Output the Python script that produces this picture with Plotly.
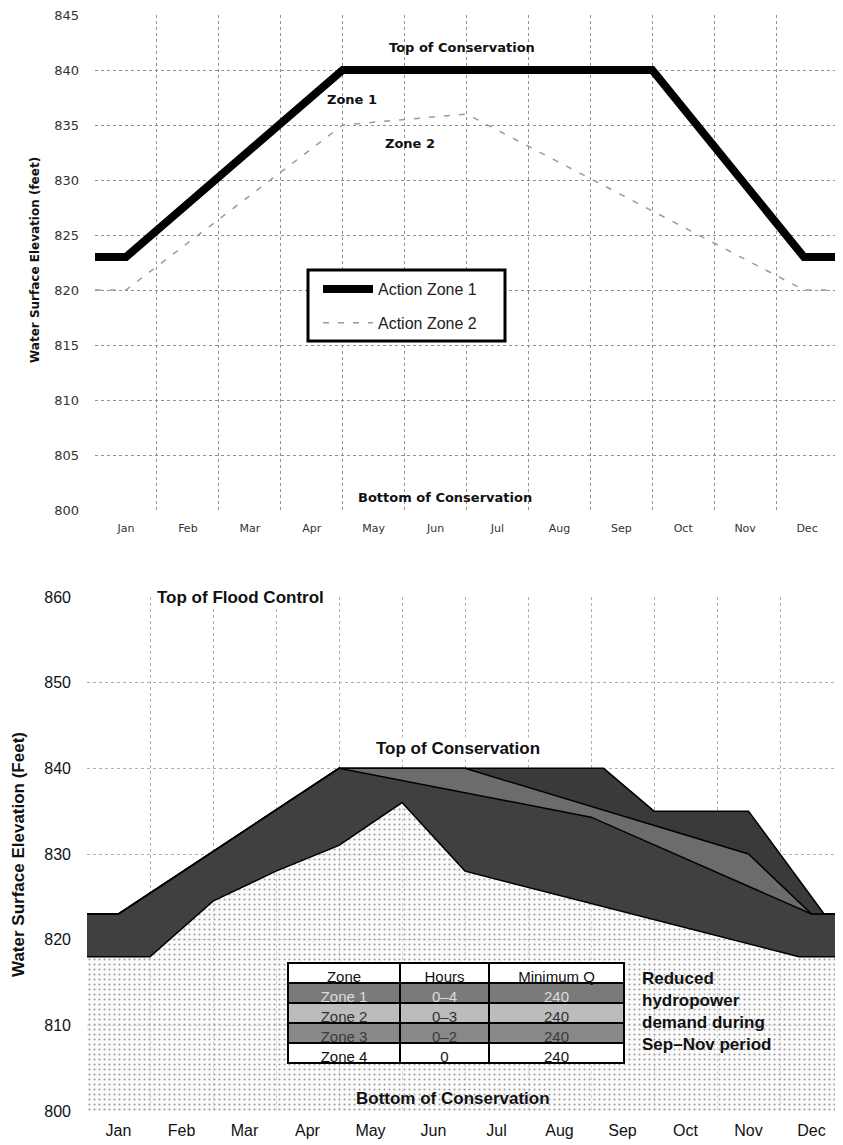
import plotly.graph_objects as go

WIN_W, WIN_H = 843, 1145
OFF = 8  # default page body margin
FIG_W, FIG_H = WIN_W - OFF, WIN_H - OFF

# ---------------- data ----------------
MONTHS = ["Jan", "Feb", "Mar", "Apr", "May", "Jun", "Jul", "Aug", "Sep", "Oct", "Nov", "Dec"]
MONTH_CENTERS = [0.5, 1.5, 2.5, 3.5, 4.5, 5.5, 6.5, 7.5, 8.5, 9.5, 10.5, 11.5]
MONTH_BOUNDS = [0, 1, 2, 3, 4, 5, 6, 7, 8, 9, 10, 11, 12]

# top chart: action zones (x in months from Jan 1)
AZ1_T = [0, 0.5, 4.0, 9.0, 11.45, 12.0]
AZ1_V = [823, 823, 840, 840, 823, 823]
AZ2_T = [0, 0.5, 4.0, 6.0, 11.45, 12.0]
AZ2_V = [820, 820, 835, 836, 820, 820]

# bottom chart: zone boundaries
TOP_T = [0, 0.5, 4.0, 8.2, 9.0, 10.5, 11.7, 12.0]
TOP_V = [823, 823, 840, 840, 835, 835, 823, 823]
Z1_T = [0, 0.5, 4.0, 6.0, 10.5, 11.5, 12.0]
Z1_V = [823, 823, 840, 840, 830, 823, 823]
Z2_T = [0, 0.5, 4.0, 8.0, 11.5, 12.0]
Z2_V = [823, 823, 840, 834.3, 823, 823]
Z3_T = [0, 1.0, 2.0, 3.0, 4.0, 5.0, 6.0, 11.3, 12.0]
Z3_V = [818, 818, 824.5, 828, 831, 836, 828, 818, 818]

TABLE_HEADER = ["Zone", "Hours", "Minimum Q"]
TABLE_ZONE = ["Zone 1", "Zone 2", "Zone 3", "Zone 4"]
TABLE_HOURS = ["0\u20134", "0\u20133", "0\u20132", "0"]
TABLE_MINQ = ["240", "240", "240", "240"]

ROW_FILLS = ["#7a7a7a", "#bcbcbc", "#888888", "#ffffff"]
ROW_FONTS = ["#dcdcdc", "#333333", "#3a3a3a", "#111111"]


def px_x(p):
    return (p - OFF) / FIG_W


def px_y(p):
    return 1 - (p - OFF) / FIG_H


fig = go.Figure()

# ---------------- top chart ----------------
fig.add_trace(go.Scatter(
    x=AZ1_T, y=AZ1_V, mode="lines", name="Action Zone 1",
    line=dict(color="black", width=8), xaxis="x", yaxis="y",
    legendgroup="a", showlegend=True, hoverinfo="skip"))
fig.add_trace(go.Scatter(
    x=AZ2_T, y=AZ2_V, mode="lines", name="Action Zone 2",
    line=dict(color="#9a9a9a", width=1.5, dash="6px,9px"), xaxis="x", yaxis="y",
    legendgroup="b", showlegend=True, hoverinfo="skip"))

# ---------------- bottom chart ----------------
fig.add_trace(go.Scatter(
    x=Z3_T, y=Z3_V, mode="lines", line=dict(color="black", width=1.5),
    fill="tozeroy", fillcolor="rgba(244,244,244,0.6)",
    fillpattern=dict(shape=".", fgcolor="#9c9c9c", bgcolor="rgba(247,247,247,0.55)",
                     size=5, solidity=0.14),
    xaxis="x2", yaxis="y2", showlegend=False, hoverinfo="skip"))
fig.add_trace(go.Scatter(
    x=Z2_T, y=Z2_V, mode="lines", line=dict(color="black", width=1.5),
    fill="tonexty", fillcolor="#404040",
    xaxis="x2", yaxis="y2", showlegend=False, hoverinfo="skip"))
fig.add_trace(go.Scatter(
    x=Z1_T, y=Z1_V, mode="lines", line=dict(color="black", width=1.5),
    fill="tonexty", fillcolor="#6c6c6c",
    xaxis="x2", yaxis="y2", showlegend=False, hoverinfo="skip"))
fig.add_trace(go.Scatter(
    x=TOP_T, y=TOP_V, mode="lines", line=dict(color="black", width=1.5),
    fill="tonexty", fillcolor="#3a3a3a",
    xaxis="x2", yaxis="y2", showlegend=False, hoverinfo="skip"))

# table
fig.add_trace(go.Table(
    domain=dict(x=[px_x(288), px_x(624)], y=[px_y(1066), px_y(963)]),
    columnwidth=[112, 89, 135],
    header=dict(values=TABLE_HEADER, fill_color="white",
                line=dict(color="black", width=1.5), height=20, align="center",
                font=dict(family="Liberation Sans Narrow, Liberation Sans, Arial", size=15, color="#111")),
    cells=dict(values=[TABLE_ZONE, TABLE_HOURS, TABLE_MINQ],
               fill_color=[ROW_FILLS, ROW_FILLS, ROW_FILLS],
               line=dict(color="black", width=1.5), height=20, align="center",
               font=dict(family="Liberation Sans Narrow, Liberation Sans, Arial", size=15,
                         color=[ROW_FONTS, ROW_FONTS, ROW_FONTS])),
))

grid_top = dict(gridcolor="#8f8f8f", griddash="dot", gridwidth=1)
grid_bot = dict(gridcolor="#b0b0b0", griddash="dot", gridwidth=1)

fig.update_layout(
    template="none",
    width=FIG_W, height=FIG_H,
    margin=dict(l=0, r=0, t=0, b=0, autoexpand=False),
    paper_bgcolor="white", plot_bgcolor="white",
    showlegend=True,
    legend=dict(x=px_x(318), y=px_y(272), xanchor="left", yanchor="top",
                bgcolor="rgba(0,0,0,0)", borderwidth=0,
                font=dict(family="Liberation Sans, Arial", size=16, color="#222"),
                itemwidth=50, traceorder="grouped", tracegroupgap=10),
    xaxis=dict(domain=[px_x(95), px_x(838)], range=[0, 12], anchor="y", automargin=False,
               tickmode="array", tickvals=MONTH_CENTERS, ticktext=MONTHS,
               showgrid=False, zeroline=False, showline=False, ticks="",
               ticklabelstandoff=10, ticklabeloverflow="allow",
               tickfont=dict(family="DejaVu Sans", size=11, color="#333"),
               minor=dict(tickmode="array", tickvals=MONTH_BOUNDS, showgrid=True, **grid_top)),
    yaxis=dict(domain=[px_y(510), px_y(15)], range=[800, 845], anchor="x", automargin=False,
               tickmode="array", tickvals=[800, 805, 810, 815, 820, 825, 830, 835, 840, 845],
               showgrid=True, zeroline=False, showline=False, ticks="",
               ticklabelstandoff=15, ticklabeloverflow="allow",
               tickfont=dict(family="DejaVu Sans", size=13, color="#333"), **grid_top),
    xaxis2=dict(domain=[px_x(87), 1.0], range=[0, 12], anchor="y2", automargin=False,
                tickmode="array", tickvals=MONTH_CENTERS, ticktext=MONTHS,
                showgrid=False, zeroline=False, showline=False, ticks="",
                ticklabelstandoff=8, ticklabeloverflow="allow",
                tickfont=dict(family="Liberation Sans, Arial", size=16, color="#111"),
                minor=dict(tickmode="array", tickvals=MONTH_BOUNDS, showgrid=True, **grid_bot)),
    yaxis2=dict(domain=[px_y(1111), px_y(597)], range=[800, 860], anchor="x2", automargin=False,
                tickmode="array", tickvals=[800, 810, 820, 830, 840, 850, 860],
                showgrid=True, zeroline=False, showline=False, ticks="",
                ticklabelstandoff=15, ticklabeloverflow="allow",
                tickfont=dict(family="Liberation Sans, Arial", size=16, color="#111"), **grid_bot),
    shapes=[
        # legend frame
        dict(type="rect", xref="paper", yref="paper",
             x0=px_x(308), x1=px_x(505), y0=px_y(341), y1=px_y(270),
             line=dict(color="black", width=3), fillcolor="white", layer="above"),
    ],
)

bold_top = dict(family="DejaVu Sans", size=13, color="#111")
bold_bot = dict(family="Liberation Sans, Arial", size=17, color="#111")

annotations = [
    dict(text="<b>Top of Conservation</b>", x=5.92, y=842.0, xref="x", yref="y", font=bold_top),
    dict(text="<b>Zone 1</b>", x=4.15, y=837.3, xref="x", yref="y", font=bold_top),
    dict(text="<b>Zone 2</b>", x=5.08, y=833.3, xref="x", yref="y", font=bold_top),
    dict(text="<b>Bottom of Conservation</b>", x=5.66, y=801.1, xref="x", yref="y", font=bold_top),
    dict(text="<b>Water Surface Elevation (feet)</b>", x=px_x(35), y=px_y(260),
         xref="paper", yref="paper", textangle=-90, xanchor="center", yanchor="middle",
         font=dict(family="DejaVu Sans", size=12, color="#111")),
    dict(text="<b>Top of Flood Control</b>", x=2.44, y=860, xref="x2", yref="y2",
         font=bold_bot, bgcolor="white"),
    dict(text="<b>Top of Conservation</b>", x=5.89, y=842.3, xref="x2", yref="y2",
         font=bold_bot, bgcolor="white"),
    dict(text="<b>Bottom of Conservation</b>", x=5.81, y=801.5, xref="x2", yref="y2",
         font=bold_bot),
    dict(text="<b>Reduced<br>hydropower<br>demand during<br>Sep\u2013Nov period</b>",
         x=8.78, y=811.6, xref="x2", yref="y2", xanchor="left", align="left",
         font=dict(family="Liberation Sans, Arial", size=17, color="#111")),
    dict(text="<b>Water Surface Elevation (Feet)</b>", x=px_x(18), y=px_y(855),
         xref="paper", yref="paper", textangle=-90, xanchor="center", yanchor="middle",
         font=bold_bot),
]
for a in annotations:
    a.setdefault("showarrow", False)
fig.update_layout(annotations=annotations)

fig.write_html("out.html")
